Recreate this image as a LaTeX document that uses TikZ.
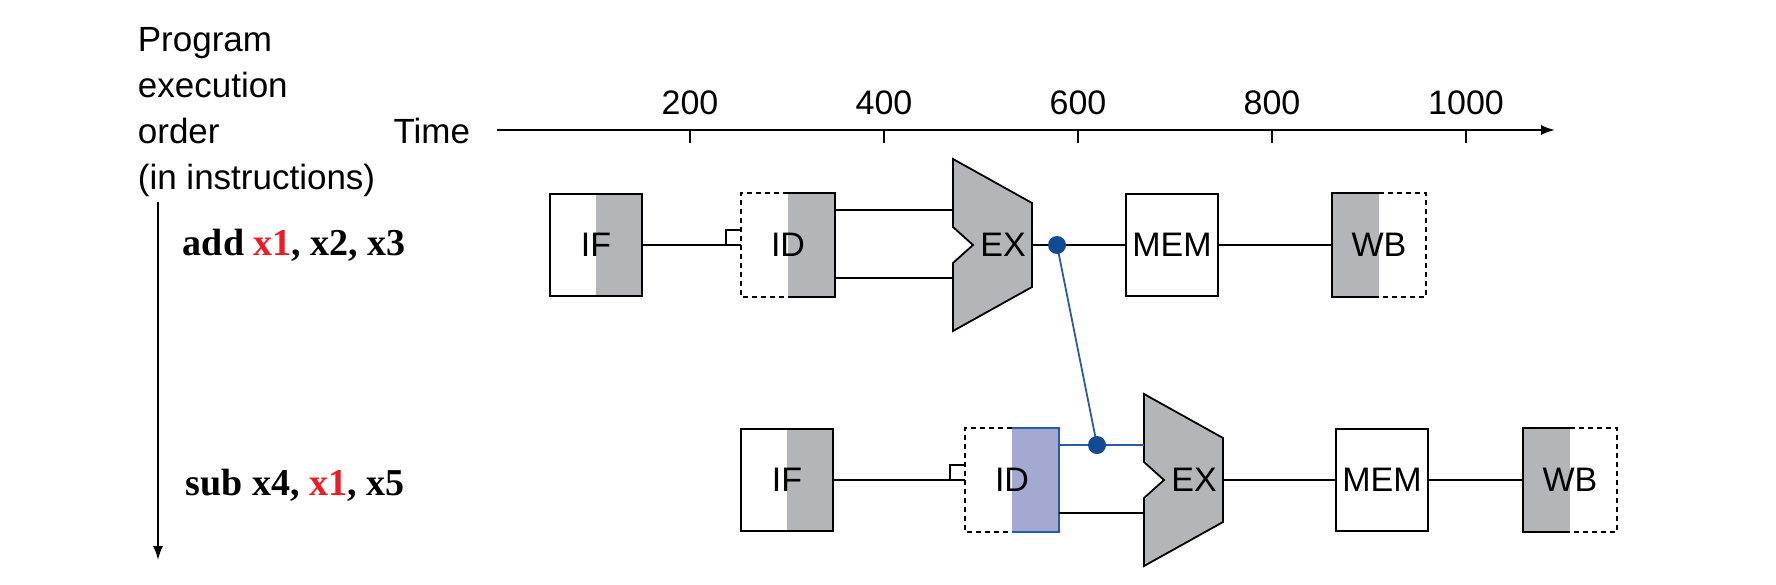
\documentclass[tikz,border=0pt]{standalone}
\usepackage{fontspec}
\setmainfont{Liberation Sans}
\newfontfamily\instrfont{Liberation Serif}
\usetikzlibrary{arrows.meta}
\definecolor{stagegray}{HTML}{B4B5B9}
\definecolor{idblue}{HTML}{A4A9D1}
\definecolor{fwdblue}{HTML}{2B5BA6}
\definecolor{dotblue}{HTML}{134A94}
\definecolor{regred}{HTML}{ED1C24}

\begin{document}
\begin{tikzpicture}[x=0.5pt,y=-0.5pt,line width=0.9pt,
  font=\fontsize{17}{22}\selectfont,
  stage/.style={rectangle,inner sep=0pt,minimum width=46pt,minimum height=51pt},
  rshade/.style={path picture={\fill[#1] (path picture bounding box.north) rectangle (path picture bounding box.south east);}},
  lshade/.style={path picture={\fill[#1] (path picture bounding box.north west) rectangle (path picture bounding box.south);}},
  dashedge/.style={dash pattern=on 2.5pt off 2pt},
  instr/.style={anchor=base west,inner sep=0pt,font=\instrfont\bfseries\fontsize{19}{23}\selectfont},
  tip/.style={-{Latex[length=7pt,width=5pt]}},
  alu/.pic={
    \draw[fill=stagegray] (0,-86) -- (79,-42) -- (79,42) -- (0,86) -- (0,18) -- (20,0) -- (0,-18) -- cycle;
    \coordinate (-in1) at (0,-35);
    \coordinate (-in2) at (0,33);
    \coordinate (-out) at (79,0);
    \node (-lbl) at (50,0) {EX};
  }]
\useasboundingbox (0,0) rectangle (1776,584);

% axes
\node[anchor=north west,align=left,inner sep=0pt,font=\fontsize{17.5}{23}\selectfont] (order) at (137,27) {Program\\execution\\order\\(in instructions)};
\node[anchor=base east,inner sep=0pt,font=\fontsize{17.5}{23}\selectfont] (time) at (471,143) {Time};
\coordinate (t0) at (497,130);
\coordinate (t1) at (1555,130);
\draw[tip] (t0) -- (t1);
\foreach \lbl/\x in {200/690,400/884,600/1078,800/1272,1000/1466} {
  \draw (\x,130) -- (\x,143);
  \node (tick\lbl) at (\x,103) {\lbl};
}
\coordinate (ord0) at (158,202);
\coordinate (ord1) at (158,560);
\draw[tip] (ord0) -- (ord1);

\node[instr] (add) at (182,255) {add \textcolor{regred}{x1}, x2, x3};
\node[instr] (sub) at (185,495) {sub x4, \textcolor{regred}{x1}, x5};

% add x1, x2, x3
\node[stage,draw,rshade=stagegray] (if1) at (596,245) {IF};
\node[stage,rshade=stagegray] (id1) at (788,245) {ID};
\pic (ex1) at (953,245) {alu};
\node[stage,draw] (mem1) at (1172,245) {MEM};
\node[stage,lshade=stagegray] (wb1) at (1379,245) {WB};
\draw[dashedge] (id1.north) -- (id1.north west) -- (id1.south west) -- (id1.south);
\draw (id1.north) -- (id1.north east) -- (id1.south east) -- (id1.south);
\draw (wb1.north) -- (wb1.north west) -- (wb1.south west) -- (wb1.south);
\draw[dashedge] (wb1.north) -- (wb1.north east) -- (wb1.south east) -- (wb1.south);
\draw (if1.east) -- (id1.west);
\draw ([xshift=-7.5pt]id1.west) |- ([yshift=7.5pt]id1.west);
\draw (id1.east |- ex1-in1) -- (ex1-in1);
\draw (id1.east |- ex1-in2) -- (ex1-in2);
\draw (ex1-out) -- (mem1.west);
\draw (mem1.east) -- (wb1.west);

% sub x4, x1, x5
\node[stage,draw,rshade=stagegray] (if2) at (787,480) {IF};
\node[stage,rshade=idblue] (id2) at (1012,480) {ID};
\pic (ex2) at (1144,480) {alu};
\node[stage,draw] (mem2) at (1382,480) {MEM};
\node[stage,lshade=stagegray] (wb2) at (1570,480) {WB};
\draw[dashedge] (id2.north) -- (id2.north west) -- (id2.south west) -- (id2.south);
\draw[fwdblue] (id2.north) -- (id2.north east) -- (id2.south east) -- (id2.south);
\draw (wb2.north) -- (wb2.north west) -- (wb2.south west) -- (wb2.south);
\draw[dashedge] (wb2.north) -- (wb2.north east) -- (wb2.south east) -- (wb2.south);
\draw (if2.east) -- (id2.west);
\draw ([xshift=-7.5pt]id2.west) |- ([yshift=7.5pt]id2.west);
\draw[fwdblue] (id2.east |- ex2-in1) -- (ex2-in1);
\draw (id2.east |- ex2-in2) -- (ex2-in2);
\draw (ex2-out) -- (mem2.west);
\draw (mem2.east) -- (wb2.west);

% forwarding
\coordinate (fwd1) at (1057,245);
\coordinate (fwd2) at (1097,445);
\draw[fwdblue] (fwd1) -- (fwd2);
\fill[dotblue] (fwd1) circle[radius=4.5pt];
\fill[dotblue] (fwd2) circle[radius=4.5pt];
\end{tikzpicture}
\end{document}
